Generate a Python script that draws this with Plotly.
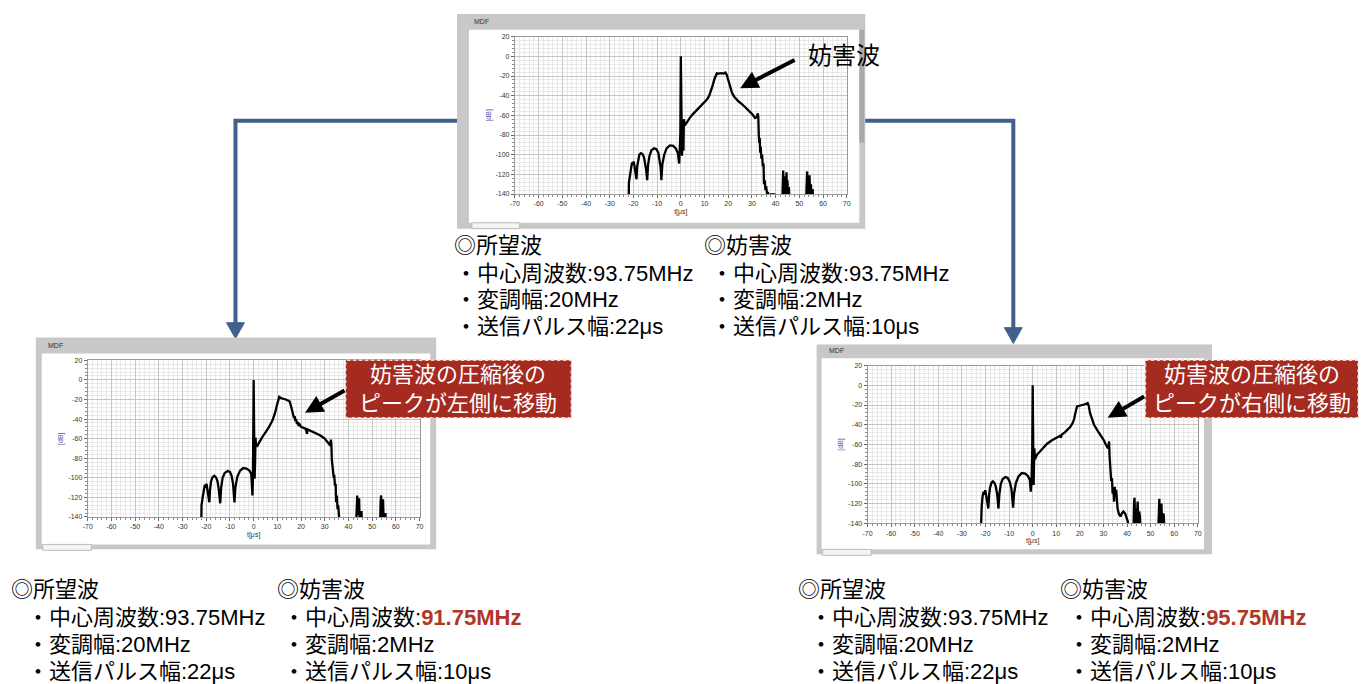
import plotly.graph_objects as go

W, H = 1365, 684

# Compressed-pulse output (t in μs, level in dB); values below -140 dB fall off the graph.
# Interferer at the same centre frequency, 93.75 MHz
same_pts = [
    (-22.0, -150), (-21.9, -128), (-21.5, -122), (-21.0, -112), (-20.6, -108), (-20.2, -110),
    (-19.9, -107), (-19.5, -112), (-19.1, -118), (-18.7, -125),
    (-18.4, -112), (-18.0, -104), (-17.5, -100), (-16.8, -98.5), (-16.1, -99.5), (-15.5, -103),
    (-15.0, -109), (-14.6, -116), (-14.2, -126),
    (-13.8, -110), (-13.2, -101), (-12.4, -95.5), (-11.3, -93.5), (-10.3, -94.5), (-9.5, -98),
    (-8.9, -105), (-8.5, -113), (-8.2, -126),
    (-7.8, -110), (-7.0, -100), (-6.0, -93.5), (-4.6, -90.5), (-3.2, -91), (-2.0, -94),
    (-1.2, -99), (-0.7, -109),
    (-0.4, -98), (-0.2, -80), (0.0, 0), (0.2, -60), (0.5, -101), (0.8, -70), (1.1, -96),
    (1.3, -64), (1.7, -70),
    (2.5, -67.5), (3.5, -63.5), (5.0, -59), (6.5, -55.5), (8.0, -52), (9.5, -48), (11.0, -44),
    (12.0, -40), (12.8, -35), (13.5, -29), (14.2, -23), (14.8, -18.5), (15.2, -17.2),
    (16.0, -17.5), (17.0, -17.0), (18.0, -17.5), (18.8, -16.5), (19.4, -19), (20.0, -24),
    (20.8, -31), (21.6, -37), (22.5, -41), (24.0, -45), (26.0, -49), (28.0, -53.5),
    (30.0, -58.5), (31.3, -62.5), (32.0, -62), (32.5, -58), (32.7, -62),
    (32.9, -80), (33.1, -88), (33.3, -83), (33.5, -98), (33.7, -92), (34.0, -104), (34.3, -100),
    (34.6, -112), (34.9, -109), (35.1, -130), (35.4, -126), (35.7, -136), (36.0, -132),
    (36.4, -140), (36.8, -138), (37.2, -150), (38.0, -140.5), (39.5, -140.5), (40.0, -150),
    (42.8, -150), (43.0, -125), (43.2, -116), (43.4, -135), (43.6, -122), (43.8, -150),
    (44.3, -150), (44.6, -118), (44.8, -140), (45.0, -126), (45.3, -150), (45.6, -133), (45.9, -150),
    (52.8, -150), (53.1, -120), (53.3, -117), (53.5, -140), (53.8, -128), (54.1, -150),
    (54.3, -121), (54.6, -145), (54.9, -130), (55.2, -150), (55.6, -135), (55.9, -150),
]

# Interferer moved down to 91.75 MHz
low_pts = [
    (-22.1, -150), (-22.0, -128), (-21.5, -120), (-21.0, -110), (-20.6, -107), (-20.3, -110),
    (-19.9, -106), (-19.5, -112), (-19.1, -118), (-18.7, -125),
    (-18.4, -112), (-18.0, -104), (-17.4, -99.5), (-16.6, -98), (-15.9, -99.5), (-15.3, -103),
    (-14.8, -110), (-14.4, -117), (-14.1, -126),
    (-13.7, -110), (-13.1, -100), (-12.2, -95), (-11.0, -93), (-10.0, -94), (-9.3, -98),
    (-8.7, -106), (-8.4, -114), (-8.1, -125),
    (-7.7, -110), (-6.9, -99), (-5.8, -93), (-4.4, -90), (-3.0, -90.5), (-1.8, -92.5),
    (-1.0, -96), (-0.7, -110), (-0.5, -118),
    (-0.3, -100), (-0.1, -60), (0.0, 0), (0.2, -50), (0.4, -101), (0.6, -85), (0.8, -59),
    (1.0, -68), (1.5, -67.5),
    (2.5, -63), (3.5, -59), (5.0, -53.5), (6.5, -48), (8.0, -41), (9.0, -34), (9.8, -26),
    (10.4, -18.5), (10.8, -17.3), (11.5, -18.5), (12.5, -19), (13.5, -20), (14.5, -21),
    (15.2, -22), (15.8, -27), (16.5, -34), (17.0, -39), (17.3, -37), (17.6, -42), (17.9, -40),
    (18.3, -45), (18.6, -43), (19.0, -47), (19.4, -45.5), (20.0, -48), (22.0, -50),
    (22.5, -55), (22.8, -50.5), (24.0, -52), (26.0, -54), (28.0, -56.5), (30.0, -60),
    (31.5, -64), (32.3, -67), (32.6, -61), (32.8, -66),
    (33.0, -82), (33.3, -88), (33.5, -96), (33.8, -100), (34.0, -97), (34.3, -108),
    (34.6, -106), (34.8, -125), (35.1, -118), (35.4, -132), (35.7, -128), (36.0, -140),
    (36.3, -150),
    (43.2, -150), (43.5, -125), (43.7, -118), (43.9, -138), (44.2, -125), (44.5, -121),
    (44.8, -150), (45.2, -140), (45.5, -134), (45.8, -150),
    (53.3, -150), (53.6, -123), (53.8, -118), (54.0, -140), (54.3, -125), (54.6, -122),
    (54.9, -150), (55.3, -138), (55.6, -136), (55.9, -150),
]

# Interferer moved up to 95.75 MHz
high_pts = [
    (-22.0, -150), (-21.9, -130), (-21.6, -122), (-21.2, -112), (-20.8, -108), (-20.5, -111),
    (-20.1, -106.5), (-19.7, -112), (-19.2, -118), (-18.8, -125),
    (-18.5, -112), (-18.1, -104), (-17.5, -99), (-16.9, -97.5), (-16.2, -99), (-15.6, -103),
    (-15.1, -110), (-14.8, -117), (-14.5, -125),
    (-14.1, -110), (-13.5, -100), (-12.7, -95), (-11.6, -93), (-10.6, -94), (-9.7, -98),
    (-9.0, -105), (-8.6, -114), (-8.3, -124),
    (-7.9, -110), (-7.1, -99), (-6.0, -92.5), (-4.6, -89), (-3.2, -89.5), (-2.0, -92),
    (-1.2, -96), (-0.8, -108),
    (-0.5, -97), (-0.2, -70), (0.0, 0), (0.2, -50), (0.4, -101), (0.7, -64), (1.0, -75),
    (1.3, -73), (2.0, -70),
    (3.0, -67.5), (4.5, -63), (6.0, -59.5), (8.0, -56), (10.0, -53), (11.5, -51.5),
    (12.0, -53), (12.3, -50), (13.5, -48), (15.0, -45), (16.0, -42), (17.0, -38), (17.6, -34),
    (18.0, -29), (18.4, -23), (18.8, -21.5), (19.5, -21), (20.5, -20.5), (21.5, -19.5),
    (22.5, -19), (23.3, -18), (23.8, -21), (24.3, -28), (25.0, -34), (26.0, -40), (27.5, -46),
    (29.0, -51), (30.0, -55), (31.0, -60), (31.7, -63), (32.1, -62), (32.4, -57),
    (32.6, -72), (32.8, -85), (33.0, -82), (33.3, -97), (33.6, -94), (33.9, -110), (34.2, -104),
    (34.5, -118), (34.8, -103), (35.1, -112), (35.4, -106), (35.7, -118), (36.0, -125),
    (36.5, -130), (37.2, -133), (37.8, -130), (38.5, -128), (39.2, -130), (39.8, -134),
    (40.3, -138), (40.8, -150),
    (42.7, -150), (43.0, -118), (43.2, -114), (43.4, -140), (43.7, -125), (44.0, -150),
    (44.3, -120), (44.5, -118), (44.8, -140), (45.2, -128), (45.5, -134), (45.8, -150),
    (53.2, -150), (53.5, -118), (53.7, -115), (53.9, -140), (54.3, -122), (54.6, -120),
    (54.9, -150), (55.3, -130), (55.6, -132), (55.9, -150),
]

x_tick_vals = [-70, -60, -50, -40, -30, -20, -10, 0, 10, 20, 30, 40, 50, 60, 70]
x_tick_text = ["-70", "-60", "-50", "-40", "-30", "-20", "-10", "0", "10", "20", "30",
               "40", "50", "60", "70"]
y_tick_vals = [20, 0, -20, -40, -60, -80, -100, -120, -140]
y_tick_text = ["20", "0", "-20", "-40", "-60", "-80", "-100", "-120", "-140"]

# Parameter lists printed under each graph
desired_lines = ["・中心周波数:93.75MHz", "・変調幅:20MHz", "・送信パルス幅:22μs"]
interferer_bw = "・変調幅:2MHz"
interferer_pw = "・送信パルス幅:10μs"
interferer_freqs = ["93.75MHz", "91.75MHz", "95.75MHz"]

CALLOUT_LEFT = "妨害波の圧縮後の<br>ピークが左側に移動"
CALLOUT_RIGHT = "妨害波の圧縮後の<br>ピークが右側に移動"

FONT = "Arial, Liberation Sans, Noto Sans CJK JP"
BLUE = "#41618c"
RED_FILL = "#a52b20"
RED_TEXT = "#b0362a"
TEXT_SIZE = 22


def px(x):
    return x / W


def py(y):
    return 1 - y / H


# Graph panels in pixel geometry: outer frame, white face, plot area, MDF label, bottom tab
panels = [
    dict(pts=same_pts, frame=(455, 10, 866, 227), face=(467, 26, 860, 221),
         plot=(513.3, 33, 847.3, 192), mdf=(470, 18), tab=(470, 221, 518, 227),
         bar=(860, 26, 865, 140)),
    dict(pts=low_pts, frame=(31, 337, 434, 551), face=(37, 353, 428, 546),
         plot=(83.3, 360, 417.3, 518.3), mdf=(41, 345), tab=(38, 546, 87, 552), bar=None),
    dict(pts=high_pts, frame=(817, 344, 1215, 556), face=(822, 358, 1207, 551),
         plot=(868.3, 365.3, 1200.7, 524.7), mdf=(827, 350), tab=(823, 551, 872, 557), bar=None),
]

fig = go.Figure()
shapes = []
annotations = []

# blue connector lines with arrowheads (under the graph frames)
shapes.append(dict(type="path", xref="paper", yref="paper", layer="below",
                   path=f"M {px(458)},{py(118)} L {px(232)},{py(118)} L {px(232)},{py(323)}",
                   line=dict(color=BLUE, width=4)))
shapes.append(dict(type="path", xref="paper", yref="paper", layer="below",
                   path=f"M {px(223)},{py(322)} L {px(241)},{py(322)} L {px(232)},{py(338)} Z",
                   fillcolor=BLUE, line=dict(color=BLUE, width=1)))
shapes.append(dict(type="path", xref="paper", yref="paper", layer="below",
                   path=f"M {px(862)},{py(118)} L {px(1015)},{py(118)} L {px(1015)},{py(328)}",
                   line=dict(color=BLUE, width=4)))
shapes.append(dict(type="path", xref="paper", yref="paper", layer="below",
                   path=f"M {px(1006)},{py(327)} L {px(1024)},{py(327)} L {px(1015)},{py(343)} Z",
                   fillcolor=BLUE, line=dict(color=BLUE, width=1)))

suffix = ["", "2", "3"]
for i, p in enumerate(panels):
    s = suffix[i]
    t_vals = [a for a, _ in p["pts"]]
    db_vals = [b for _, b in p["pts"]]
    fig.add_trace(go.Scatter(x=t_vals, y=db_vals, mode="lines",
                             line=dict(color="black", width=2.3),
                             xaxis="x" + s, yaxis="y" + s,
                             showlegend=False, hoverinfo="skip"))

    fx0, fy0, fx1, fy1 = p["frame"]
    shapes.append(dict(type="rect", xref="paper", yref="paper", layer="below",
                       x0=px(fx0), x1=px(fx1), y0=py(fy1), y1=py(fy0),
                       fillcolor="#c8c8c8", line=dict(width=0)))
    wx0, wy0, wx1, wy1 = p["face"]
    shapes.append(dict(type="rect", xref="paper", yref="paper", layer="below",
                       x0=px(wx0), x1=px(wx1), y0=py(wy1), y1=py(wy0),
                       fillcolor="white", line=dict(width=0)))
    tx0, ty0, tx1, ty1 = p["tab"]
    shapes.append(dict(type="rect", xref="paper", yref="paper", layer="below",
                       x0=px(tx0), x1=px(tx1), y0=py(ty1), y1=py(ty0),
                       fillcolor="#f4f4f4", line=dict(color="#bcbcbc", width=1)))
    if p["bar"]:
        bx0, by0, bx1, by1 = p["bar"]
        shapes.append(dict(type="rect", xref="paper", yref="paper", layer="below",
                           x0=px(bx0), x1=px(bx1), y0=py(by1), y1=py(by0),
                           fillcolor="#a9a9a9", line=dict(width=0)))
    annotations.append(dict(text="MDF", x=px(p["mdf"][0]), y=py(p["mdf"][1]),
                            xref="paper", yref="paper", xanchor="left", yanchor="middle",
                            showarrow=False, font=dict(family=FONT, size=7, color="#333333")))

    x0, y0, x1, y1 = p["plot"]
    fig.layout["xaxis" + s] = dict(
        domain=[px(x0), px(x1)], anchor="y" + s, range=[-70, 70],
        tickmode="array", tickvals=x_tick_vals, ticktext=x_tick_text,
        ticks="outside", ticklen=3, tickcolor="#666666", tickwidth=1,
        tickfont=dict(family=FONT, size=7, color="#333333"),
        showgrid=True, gridcolor="#c6c6c6", gridwidth=1, zeroline=False,
        showline=True, linecolor="#9a9a9a", linewidth=1, mirror=True,
        minor=dict(tickmode="linear", tick0=0, dtick=2, showgrid=True, gridcolor="#e8e8e8",
                   ticks="outside", ticklen=2, tickcolor="#888888"),
        title=dict(text="t[μs]", font=dict(family=FONT, size=7, color="#333333"), standoff=2),
    )
    fig.layout["yaxis" + s] = dict(
        domain=[py(y1), py(y0)], anchor="x" + s, range=[-140, 20],
        tickmode="array", tickvals=y_tick_vals, ticktext=y_tick_text,
        ticks="outside", ticklen=3, tickcolor="#666666", tickwidth=1,
        tickfont=dict(family=FONT, size=7, color="#333333"),
        showgrid=True, gridcolor="#c6c6c6", gridwidth=1, zeroline=False,
        showline=True, linecolor="#9a9a9a", linewidth=1, mirror=True,
        minor=dict(tickmode="linear", tick0=0, dtick=4, showgrid=True, gridcolor="#e8e8e8",
                   ticks="outside", ticklen=2, tickcolor="#888888"),
        title=dict(text="[dB]", font=dict(family=FONT, size=7, color="#5a5aa8"), standoff=3),
    )

# callout boxes
for (x0, y0, x1, y1), txt in [((343, 360, 570, 418), CALLOUT_LEFT),
                               ((1148, 360, 1362, 418), CALLOUT_RIGHT)]:
    shapes.append(dict(type="rect", xref="paper", yref="paper", layer="above",
                       x0=px(x0), x1=px(x1), y0=py(y1), y1=py(y0),
                       fillcolor=RED_FILL, line=dict(color="#f0d8d4", width=1.5, dash="dot")))
    annotations.append(dict(text=txt, x=px((x0 + x1) / 2), y=py((y0 + y1) / 2),
                            xref="paper", yref="paper", xanchor="center", yanchor="middle",
                            showarrow=False, align="center",
                            font=dict(family=FONT, size=22, color="white")))

# black pointer arrows (tip, tail)
for tip, tail in [((740, 85), (796, 56)), ((302, 413), (343, 390)), ((1110, 418), (1148, 396))]:
    annotations.append(dict(text="", x=px(tip[0]), y=py(tip[1]), xref="paper", yref="paper",
                            ax=tail[0] - tip[0], ay=tail[1] - tip[1], axref="pixel", ayref="pixel",
                            showarrow=True, arrowhead=2, arrowsize=0.9, arrowwidth=4,
                            arrowcolor="black"))

annotations.append(dict(text="妨害波", x=px(806), y=py(52), xref="paper", yref="paper",
                        xanchor="left", yanchor="middle", showarrow=False,
                        font=dict(family=FONT, size=24, color="black")))


def text_block(hx, bx, rows_y, header, lines):
    annotations.append(dict(text=header, x=px(hx), y=py(rows_y[0]), xref="paper", yref="paper",
                            xanchor="left", yanchor="middle", showarrow=False,
                            font=dict(family=FONT, size=TEXT_SIZE, color="black")))
    for ln, yy in zip(lines, rows_y[1:]):
        annotations.append(dict(text=ln, x=px(bx), y=py(yy), xref="paper", yref="paper",
                                xanchor="left", yanchor="middle", showarrow=False,
                                font=dict(family=FONT, size=TEXT_SIZE, color="black")))


def interferer_lines(freq, highlight):
    f = f"<span style='color:{RED_TEXT}'><b>{freq}</b></span>" if highlight else freq
    return ["・中心周波数:" + f, interferer_bw, interferer_pw]


top_rows = [244, 272, 299, 326]
bot_rows = [592, 620, 647, 674]
text_block(450, 451, top_rows, "◎所望波", desired_lines)
text_block(702, 709, top_rows, "◎妨害波", interferer_lines(interferer_freqs[0], False))
text_block(4, 20, bot_rows, "◎所望波", desired_lines)
text_block(272, 278, bot_rows, "◎妨害波", interferer_lines(interferer_freqs[1], True))
text_block(796, 808, bot_rows, "◎所望波", desired_lines)
text_block(1060, 1068, bot_rows, "◎妨害波", interferer_lines(interferer_freqs[2], True))

fig.update_layout(width=W, height=H, margin=dict(l=0, r=0, t=0, b=0),
                  paper_bgcolor="white", plot_bgcolor="white",
                  shapes=shapes, annotations=annotations, showlegend=False,
                  font=dict(family=FONT))

fig.write_html("out.html")
